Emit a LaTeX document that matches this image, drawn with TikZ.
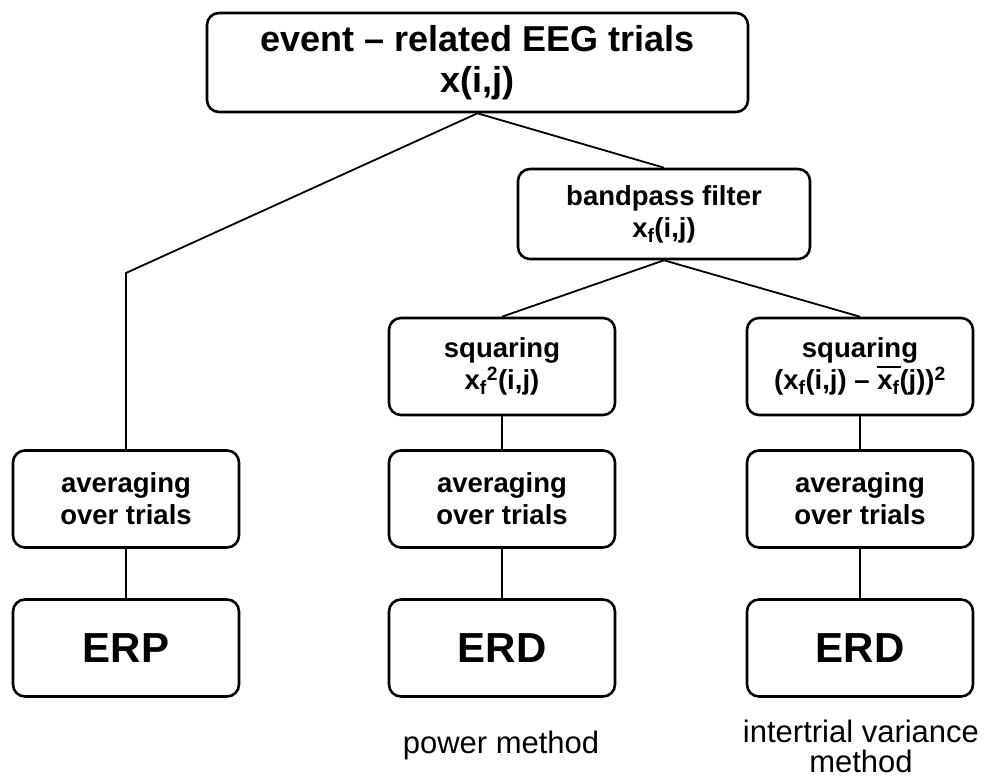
\documentclass[tikz,border=0pt]{standalone}
\usepackage{fontspec}
\setmainfont{Liberation Sans}
\newcommand{\xbar}{\makebox[0pt][l]{\rule[0.8em]{0.85em}{1.3pt}}x\textsubscript{f}}
\begin{document}
\begin{tikzpicture}[x=1pt,y=-1pt,
  box/.style={draw, rounded corners=12pt, line width=2.6pt, align=center, inner sep=0pt,
    minimum width=226pt, minimum height=97pt, font=\bfseries\fontsize{27.5}{32}\selectfont},
  result/.style={box, font=\bfseries\fontsize{42}{46}\selectfont},
  link/.style={line width=1.8pt},
  caption/.style={align=center, inner sep=0pt, font=\fontsize{31}{30}\selectfont}]
\useasboundingbox (0,0) rectangle (986,780);
% top
\node [box, minimum width=541pt, minimum height=99pt, font=\bfseries\fontsize{36}{41}\selectfont] (eeg) at (477.5,62.5) {event -- related EEG trials\\x(i,j)};
\node [box, minimum width=292pt, minimum height=90pt] (filter) at (664,214) {bandpass filter\\x\textsubscript{f}(i,j)};
% squaring
\node [box] (sqP) at (502,366.5) {squaring\\x\textsubscript{f}\textsuperscript{2}(i,j)};
\node [box] (sqV) at (860,366.5) {squaring\\(x\textsubscript{f}(i,j) -- \xbar(j))\textsuperscript{2}};
% averaging
\node [box] (avgL) at (126,499) {averaging\\over trials};
\node [box] (avgP) at (502,499) {averaging\\over trials};
\node [box] (avgV) at (860,499) {averaging\\over trials};
% results
\node [result] (erp) at (126,648) {ERP};
\node [result] (erdP) at (502,648) {ERD};
\node [result] (erdV) at (860,648) {ERD};
\node [caption] (capP) at (501,745) {power method};
\node [caption] (capV) at (861,746) {intertrial variance\\method};
% connectors
\coordinate (bend) at (126,273);
\draw [link] (eeg.south) -- (bend) -- (avgL.north);
\draw [link] (eeg.south) -- (filter.north);
\draw [link] (filter.south) -- (sqP.north);
\draw [link] (filter.south) -- (sqV.north);
\draw [link] (sqP) -- (avgP);
\draw [link] (sqV) -- (avgV);
\draw [link] (avgL) -- (erp);
\draw [link] (avgP) -- (erdP);
\draw [link] (avgV) -- (erdV);
\end{tikzpicture}
\end{document}
